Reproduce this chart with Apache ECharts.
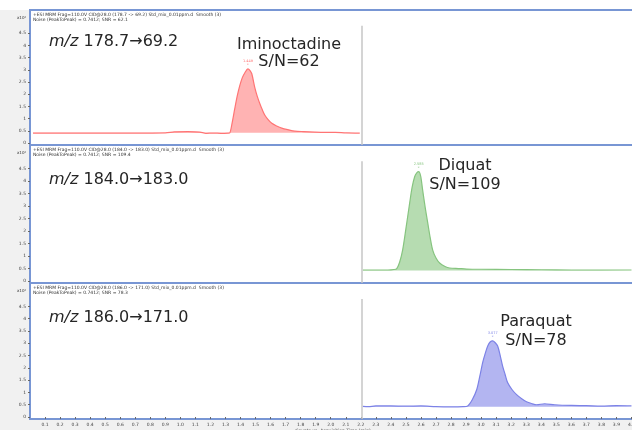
<!DOCTYPE html>
<html>
<head>
<meta charset="utf-8">
<script src="https://cdn.jsdelivr.net/npm/echarts@6/dist/echarts.min.js"></script>
<style>
  html, body { margin: 0; padding: 0; background: #fff; }
  #chart { width: 632px; height: 430px; }
</style>
</head>
<body>
<div id="chart"></div>
<script>
// acquisition time axis (min) and intensity ticks (x10^2 counts)
var xTickValues = [0, 4.03, 0.1];              // min, max, interval
var yTickLabels = [0, 0.5, 1, 1.5, 2, 2.5, 3, 3.5, 4, 4.5];
var segmentBreak = 2.206;                       // time segment divider

// Iminoctadine  m/z 178.7 -> 69.2
var redTime = [0.02, 0.30, 0.60, 0.90, 0.96, 1.05, 1.13, 1.17, 1.22, 1.27, 1.32, 1.329, 1.345, 1.362, 1.379, 1.395, 1.412, 1.429, 1.449, 1.462, 1.475, 1.495, 1.512, 1.528, 1.545, 1.562, 1.585, 1.608, 1.64, 1.674, 1.72, 1.761, 1.82, 1.894, 1.96, 2.03, 2.10, 2.193];
var redCounts = [0.41, 0.41, 0.41, 0.42, 0.46, 0.47, 0.45, 0.40, 0.41, 0.40, 0.41, 0.42, 0.85, 1.42, 1.95, 2.35, 2.68, 2.88, 3.04, 2.98, 2.84, 2.27, 1.90, 1.62, 1.36, 1.14, 0.95, 0.81, 0.70, 0.61, 0.54, 0.49, 0.47, 0.45, 0.44, 0.44, 0.42, 0.41];

// Diquat  m/z 184.0 -> 183.0
var greenTime = [2.213, 2.30, 2.38, 2.42, 2.439, 2.458, 2.478, 2.50, 2.525, 2.541, 2.558, 2.572, 2.585, 2.598, 2.611, 2.628, 2.645, 2.661, 2.678, 2.70, 2.724, 2.76, 2.791, 2.85, 2.904, 3.0, 3.2, 3.4, 3.6, 3.8, 4.0];
var greenCounts = [0.44, 0.44, 0.44, 0.46, 0.50, 0.75, 1.24, 2.10, 3.13, 3.75, 4.18, 4.33, 4.38, 4.20, 3.65, 2.95, 2.33, 1.75, 1.24, 0.92, 0.72, 0.58, 0.52, 0.50, 0.48, 0.47, 0.46, 0.45, 0.44, 0.44, 0.44];

// Paraquat  m/z 186.0 -> 171.0
var blueTime = [2.213, 2.25, 2.30, 2.40, 2.50, 2.60, 2.70, 2.80, 2.88, 2.911, 2.941, 2.971, 2.991, 3.011, 3.028, 3.044, 3.06, 3.077, 3.094, 3.110, 3.127, 3.143, 3.160, 3.176, 3.205, 3.236, 3.27, 3.302, 3.335, 3.369, 3.422, 3.489, 3.6, 3.7, 3.8, 3.9, 4.0];
var blueCounts = [0.43, 0.42, 0.45, 0.45, 0.44, 0.45, 0.42, 0.41, 0.42, 0.45, 0.70, 1.12, 1.65, 2.23, 2.60, 2.89, 3.05, 3.10, 3.02, 2.89, 2.50, 2.07, 1.72, 1.40, 1.12, 0.91, 0.74, 0.62, 0.55, 0.50, 0.54, 0.50, 0.47, 0.46, 0.44, 0.46, 0.45];

var panels = [
  { name: 'Iminoctadine', sn: 'S/N=62', mz: '178.7→69.2', header: '(178.7 -> 69.2)', snr: '62.1',
    time: redTime, counts: redCounts, line: '#ff7474', fill: '#ffb3b3', top: 10, height: 135 },
  { name: 'Diquat', sn: 'S/N=109', mz: '184.0→183.0', header: '(184.0 -> 183.0)', snr: '109.4',
    time: greenTime, counts: greenCounts, line: '#86c47f', fill: '#b6dcb1', top: 145, height: 138 },
  { name: 'Paraquat', sn: 'S/N=78', mz: '186.0→171.0', header: '(186.0 -> 171.0)', snr: '78.3',
    time: blueTime, counts: blueCounts, line: '#7c82e6', fill: '#b3b5f1', top: 283, height: 136 }
];

var yMin = -0.08, yMax = 5.45;
var font = '"DejaVu Sans", Verdana, sans-serif';

var chart = echarts.init(document.getElementById('chart'));

var grids = [], xAxes = [], yAxes = [], series = [], graphics = [];

graphics.push({ type: 'rect', z: -1, shape: { x: 0, y: 0, width: 632, height: 10 }, style: { fill: '#ffffff' } });

panels.forEach(function (p, i) {
  var last = i === panels.length - 1;
  // the panels run past the right edge of the picture
  grids.push({
    left: 30, width: 606, top: p.top, height: p.height, outerBoundsMode: 'none',
    show: true, backgroundColor: '#ffffff', borderColor: '#7896d4', borderWidth: 2
  });
  xAxes.push({
    gridIndex: i, type: 'value', min: xTickValues[0], max: xTickValues[1], interval: xTickValues[2],
    axisLine: { show: false },
    splitLine: { show: false },
    axisTick: { show: last, length: 2, lineStyle: { color: '#666' } },
    axisLabel: { show: last, fontSize: 4.5, color: '#444', margin: 3, showMinLabel: false, showMaxLabel: false,
      fontFamily: font, formatter: function (v) { return v.toFixed(1); } },
    name: last ? 'Counts vs. Acquisition Time (min)' : '',
    nameLocation: 'middle', nameGap: 7,
    nameTextStyle: { fontSize: 4.5, color: '#444', fontFamily: font }
  });
  yAxes.push({
    gridIndex: i, type: 'value', min: yMin, max: yMax,
    axisLine: { show: false },
    splitLine: { show: false },
    axisTick: { show: true, length: 2, customValues: yTickLabels, lineStyle: { color: '#666' } },
    axisLabel: { fontSize: 4.5, color: '#444', margin: 4, customValues: yTickLabels, fontFamily: font }
  });

  var peak = 0;
  p.counts.forEach(function (v, k) { if (v > p.counts[peak]) peak = k; });

  series.push({
    type: 'line', xAxisIndex: i, yAxisIndex: i,
    data: p.time.map(function (t, k) { return [t, p.counts[k]]; }),
    smooth: 0.3, symbol: 'none',
    lineStyle: { color: p.line, width: 1.2 },
    areaStyle: { color: p.fill, opacity: 1, origin: 0.42 },
    markLine: {
      silent: true, symbol: 'none', label: { show: false },
      lineStyle: { color: '#c6c6c6', width: 1.5, type: 'solid' },
      data: [[{ coord: [segmentBreak, yMin] }, { coord: [segmentBreak, 4.8] }]]
    },
    markPoint: {
      silent: true, symbol: 'rect', symbolSize: 0,
      label: { show: true, position: 'top', distance: 2, fontSize: 3.5, color: p.line, fontFamily: font,
        formatter: p.time[peak].toFixed(3) + '\n' + '*' },
      data: [{ coord: [p.time[peak], p.counts[peak]] }]
    }
  });

  // header lines of the chromatogram panel
  graphics.push({
    type: 'text', x: 33, y: p.top + 2,
    style: { text: '+ESI MRM Frag=110.0V CID@28.0 ' + p.header + ' Std_mix_0.01ppm.d  Smooth (3)\nNoise (PeakToPeak) = 0.7412; SNR = ' + p.snr,
      font: '4.5px ' + font, fill: '#333', lineHeight: 5 }
  });
  graphics.push({
    type: 'text', x: 17, y: p.top + 6,
    style: { text: 'x10²', font: '4px ' + font, fill: '#333' }
  });
  graphics.push({
    type: 'text', x: 49, y: p.top + (i === 0 ? 32 : 35),
    style: {
      text: '{i|m/z} ' + p.mz,
      font: '16px ' + font, fill: '#262626', verticalAlign: 'middle',
      rich: { i: { fontStyle: 'italic', fontSize: 16, fontFamily: font, fill: '#262626' } }
    }
  });
});

var labelPos = [[289, 45, 62], [465, 166, 185], [536, 322, 341]];
panels.forEach(function (p, i) {
  graphics.push({ type: 'text', x: labelPos[i][0], y: labelPos[i][1],
    style: { text: p.name, font: '16px ' + font, fill: '#262626', align: 'center', verticalAlign: 'middle' } });
  graphics.push({ type: 'text', x: labelPos[i][0], y: labelPos[i][2],
    style: { text: p.sn, font: '16px ' + font, fill: '#262626', align: 'center', verticalAlign: 'middle' } });
});

chart.setOption({
  animation: false,
  backgroundColor: '#f1f1f1',
  grid: grids,
  xAxis: xAxes,
  yAxis: yAxes,
  series: series,
  graphic: graphics
});
</script>
</body>
</html>
